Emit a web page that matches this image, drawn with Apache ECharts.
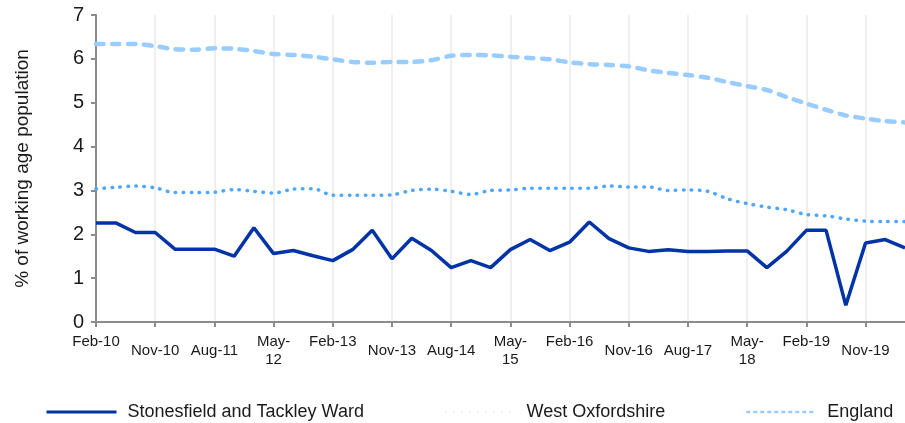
<!DOCTYPE html>
<html>
<head>
<meta charset="utf-8">
<title>Claimant rate</title>
<script src="https://cdn.jsdelivr.net/npm/echarts@6/dist/echarts.min.js"></script>
<style>
  html, body { margin: 0; padding: 0; background: #fff; }
  #main { width: 905px; height: 423px; }
</style>
</head>
<body>
<div id="main"></div>
<script>
// quarterly periods
var periods = ['Feb-10','May-10','Aug-10','Nov-10','Feb-11','May-11','Aug-11','Nov-11',
  'Feb-12','May-12','Aug-12','Nov-12','Feb-13','May-13','Aug-13','Nov-13',
  'Feb-14','May-14','Aug-14','Nov-14','Feb-15','May-15','Aug-15','Nov-15',
  'Feb-16','May-16','Aug-16','Nov-16','Feb-17','May-17','Aug-17','Nov-17',
  'Feb-18','May-18','Aug-18','Nov-18','Feb-19','May-19','Aug-19','Nov-19',
  'Feb-20','May-20'];

var stonesfield = [2.26,2.26,2.04,2.04,1.66,1.66,1.66,1.50,2.15,1.56,1.63,1.51,
  1.40,1.65,2.09,1.44,1.91,1.63,1.24,1.40,1.24,1.65,1.88,1.63,1.82,2.28,1.90,1.69,
  1.61,1.65,1.61,1.61,1.62,1.62,1.24,1.61,2.09,2.09,0.38,1.80,1.88,1.69];

var westOxon = [3.04,3.07,3.10,3.06,2.95,2.95,2.96,3.02,2.98,2.94,3.03,3.04,
  2.89,2.89,2.89,2.90,3.00,3.03,2.98,2.91,3.00,3.01,3.05,3.05,3.05,3.05,3.10,3.08,
  3.08,3.00,3.01,2.98,2.81,2.70,2.62,2.56,2.45,2.42,2.35,2.30,2.29,2.29];

var england = [6.34,6.34,6.34,6.29,6.22,6.21,6.24,6.23,6.18,6.11,6.09,6.05,
  5.99,5.93,5.91,5.93,5.93,5.97,6.07,6.09,6.08,6.05,6.02,5.99,5.92,5.88,5.86,5.83,
  5.74,5.68,5.63,5.57,5.47,5.38,5.29,5.13,4.98,4.84,4.71,4.64,4.58,4.55];

var seriesNames = ['Stonesfield and Tackley Ward', 'West Oxfordshire', 'England'];

var chart = echarts.init(document.getElementById('main'));
var font = 'Liberation Sans, Arial, sans-serif';
var axisGrey = '#8c8c8c';

function legendAt(name, left, lineStyle) {
  return {
    data: [name],
    left: left,
    top: 398,
    itemWidth: 70,
    itemHeight: 14,
    itemGap: 0,
    itemStyle: { opacity: 0 },
    lineStyle: lineStyle,
    textStyle: { fontFamily: font, fontSize: 18, color: '#1a1a1a', padding: [0, 0, 0, 6] }
  };
}

var option = {
  backgroundColor: '#ffffff',
  animation: false,
  grid: { left: 96, top: 15, width: 810, bottom: 101 },
  legend: [
    legendAt(seriesNames[0], 40, { width: 3 }),
    legendAt(seriesNames[1], 440, { width: 1, opacity: 0.35 }),
    legendAt(seriesNames[2], 740, { width: 2.5, type: [4, 3], cap: 'butt' })
  ],
  xAxis: {
    type: 'category',
    data: periods,
    boundaryGap: false,
    axisLine: { lineStyle: { color: axisGrey, width: 2 } },
    axisTick: { interval: 2, length: 5, lineStyle: { color: axisGrey, width: 2 } },
    splitLine: { show: true, interval: 2, lineStyle: { color: '#efefef', width: 2 } },
    axisLabel: {
      interval: 2,
      margin: 11,
      fontFamily: font,
      fontSize: 15,
      lineHeight: 18,
      color: '#1a1a1a',
      formatter: function (v) {
        var p = v.split('-');
        if (p[0] === 'May') return 'May-\n' + p[1];
        if (p[0] === 'Nov' || p[0] === 'Aug') return '{low|' + v + '}';
        return v;
      },
      rich: {
        low: { fontFamily: font, fontSize: 15, color: '#1a1a1a', padding: [18, 0, 0, 0], lineHeight: 18 }
      }
    }
  },
  yAxis: {
    type: 'value',
    min: 0,
    max: 7,
    interval: 1,
    name: '% of working age population',
    nameLocation: 'middle',
    nameGap: 64,
    nameTextStyle: { fontFamily: font, fontSize: 19, color: '#1a1a1a' },
    axisLine: { show: true, lineStyle: { color: axisGrey, width: 2 } },
    axisTick: { show: true, length: 5, lineStyle: { color: axisGrey, width: 2 } },
    splitLine: { show: false },
    axisLabel: { margin: 12, fontFamily: font, fontSize: 20, color: '#1a1a1a' }
  },
  series: [
    {
      name: seriesNames[0],
      type: 'line',
      data: stonesfield,
      symbol: 'none',
      z: 5,
      itemStyle: { color: '#0033a6' },
      lineStyle: { color: '#0033a6', width: 3.5 }
    },
    {
      name: seriesNames[1],
      type: 'line',
      data: westOxon,
      symbol: 'none',
      smooth: 0.3,
      itemStyle: { color: '#4da6ff' },
      lineStyle: { color: '#4da6ff', width: 3.5, type: [0.5, 7.5], cap: 'round' }
    },
    {
      name: seriesNames[2],
      type: 'line',
      data: england,
      symbol: 'none',
      smooth: 0.3,
      itemStyle: { color: '#99ccff' },
      lineStyle: { color: '#99ccff', width: 4.5, type: [7.5, 8.5], cap: 'round' }
    }
  ]
};

chart.setOption(option);
</script>
</body>
</html>
